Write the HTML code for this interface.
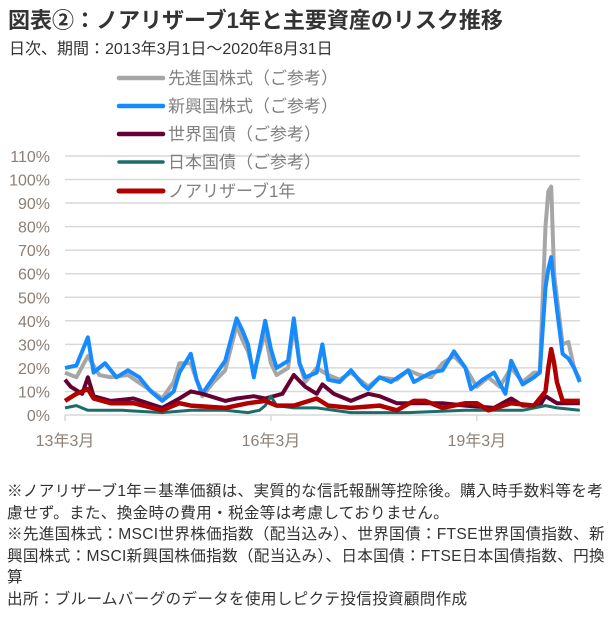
<!DOCTYPE html>
<html><head><meta charset="utf-8">
<style>
body{margin:0;background:#fff;width:615px;height:622px;overflow:hidden;font-family:"Liberation Sans","Noto Sans CJK JP",sans-serif;position:relative}
.t{position:absolute;white-space:nowrap}
</style></head><body>
<div class="t" style="left:8px;top:3px;font-size:22px;font-weight:bold;color:#333">図表②：ノアリザーブ1年と主要資産のリスク推移</div>
<div class="t" style="left:9px;top:35px;font-size:16px;color:#333">日次、期間：2013年3月1日～2020年8月31日</div>
<svg id="chart" width="615" height="470" style="position:absolute;left:0;top:0"></svg>
<div class="t" style="left:7px;top:481px;font-size:15.6px;line-height:21.6px;color:#333;white-space:normal;width:600px;letter-spacing:0.3px">※ノアリザーブ1年＝基準価額は、実質的な信託報酬等控除後。購入時手数料等を考慮せず。また、換金時の費用・税金等は考慮しておりません。<br>※先進国株式：MSCI世界株価指数（配当込み）、世界国債：FTSE世界国債指数、新興国株式：MSCI新興国株価指数（配当込み）、日本国債：FTSE日本国債指数、円換算<br>出所：ブルームバーグのデータを使用しピクテ投信投資顧問作成</div>
<script>
// months since 2013-03 and volatility (%)
const yTicks=[0,10,20,30,40,50,60,70,80,90,100,110];
const xTickLabels=["13年3月","16年3月","19年3月"];
const xTickMonths=[0,36,72];
const devT=[0,2,4,6,8,11,14,17,19,20,22,24,26,28,30,31,32,33,35,36,37,39,40,41,42,44,46,48,50,53,55,58,60,62,64,66,68,70,72,74,76,78,80,82,83,84,84.5,85,85.5,86,87,88,89,90];
const devV=[18,16,25,17,16,17,12,7,14,22,22,8,14,19,38,32,27,18,35,22,17,20,38,22,14,20,17,15,18,12,16,15,19,17,16,22,25,20,12,16,12,20,14,18,18,80,95,97,60,50,30,31,20,15];
const emT=[0,2,4,5,7,9,11,13,15,17,19,20,22,23,24,26,28,30,31,32,33,35,36,37,39,40,41,42,44,45,46,48,50,52,53,55,57,60,61,64,66,68,70,71,73,75,77,78,80,82,83,84,84.5,85,85.5,86,87,88,89,90];
const emV=[20,21,33,18,22,16,19,16,10,6,10,18,26,15,9,16,23,41,36,30,16,40,28,20,23,41,22,16,18,30,15,14,19,13,11,16,14,19,14,18,19,27,20,11,15,18,9,23,13,16,18,54,62,67,55,45,26,24,20,14];
const wbT=[0,1,3,4,5,8,12,17,20,22,24,28,30,33,35,38,40,42,44,45,47,50,53,55,58,62,66,70,75,78,80,83,84,86,90];
const wbV=[15,12,9,16,8,6,7,3,7,10,9,6,7,8,7,9,17,12,9,13,9,6,9,8,5,5,5,4,3,7,4,4,8,5,5];
const jgT=[0,2,4,10,17,22,28,32,34,35,36,37,40,44,50,60,70,80,84,86,90];
const jgV=[3,4,2,2,1,2,2,1,2,4,8,4,3,3,1,1,2,2,4,3,2];
const naT=[0,2,4,5,8,12,17,20,22,28,32,35,37,40,44,46,50,55,58,61,63,66,70,72,74,78,82,84,84.5,85,85.5,86,87,90];
const naV=[6,9,11,7,5,5,2,5,4,3,5,6,4,4,7,4,3,4,2,6,6,3,5,5,2,5,4,10,20,28,22,14,6,6];
const legendNames=["先進国株式（ご参考）","新興国株式（ご参考）","世界国債（ご参考）","日本国債（ご参考）","ノアリザーブ1年"];

const NS="http://www.w3.org/2000/svg";
const svg=document.getElementById('chart');
const X0=65,X1=580,Y0=415,PER10=23.55;
const xs=m=>X0+m*5.72;
const ys=v=>Y0-v*PER10/10;
function mk(tag,attrs){const e=document.createElementNS(NS,tag);for(const k in attrs)e.setAttribute(k,attrs[k]);svg.appendChild(e);return e;}
yTicks.forEach(v=>{
  const l=mk('line',{x1:X0,x2:X1,y1:ys(v),y2:ys(v),stroke:'#d9d9d9','stroke-width':1.5});
  
  
  const t=mk('text',{x:50,y:ys(v)+6,'text-anchor':'end','font-size':16,fill:'#8c7f75'});
  t.textContent=v+'%';
  
  
});
xTickMonths.forEach((m,i)=>{
  const l=mk('line',{x1:xs(m),x2:xs(m),y1:Y0,y2:Y0+6,stroke:'#d9d9d9','stroke-width':1.5});
  
  
  const t=mk('text',{x:xs(m),y:Y0+31,'text-anchor':'middle','font-size':16,fill:'#8c7f75'});
  t.textContent=xTickLabels[i];
  
  
});
const series=[[devT,devV,'#a6a6a6',4,'developed-stocks-line'],[emT,emV,'#168bff',4,'emerging-stocks-line'],[wbT,wbV,'#650032',4,'world-bonds-line'],[jgT,jgV,'#1b6d6c',3,'japan-bonds-line'],[naT,naV,'#b00000',4.5,'noa-reserve-line']];
series.forEach(s=>{
  const d=s[0].map((m,i)=>(i?'L':'M')+xs(m).toFixed(1)+','+ys(s[1][i]).toFixed(1)).join('');
  const p=mk('path',{d:d,fill:'none',stroke:s[2],'stroke-width':s[3],'stroke-linejoin':'round'});
  
  
});
const legY=[78,106,134,162,191];
legendNames.forEach((n,i)=>{
  const s=series[i];
  const l=mk('line',{x1:119,x2:163,y1:legY[i],y2:legY[i],stroke:s[2],'stroke-width':s[3]+0.5,'stroke-linecap':'round'});
  
  
  const t=mk('text',{x:168,y:legY[i]+6,'font-size':17,fill:'#808080'});
  t.textContent=n;
  
  
});
</script>
</body></html>
